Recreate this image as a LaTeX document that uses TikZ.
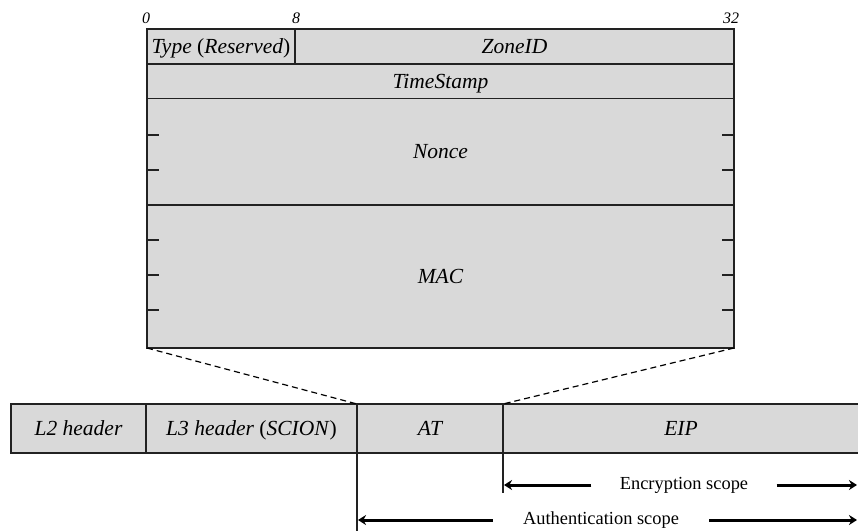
\documentclass[tikz,border=0pt]{standalone}
\usepackage{fontspec}
\setmainfont{Liberation Serif}
\usetikzlibrary{arrows.meta}

\definecolor{fieldgray}{HTML}{D9D9D9}
\definecolor{linegray}{HTML}{222222}

\begin{document}
\begin{tikzpicture}[x=0.5pt,y=-0.5pt,
    field/.style={draw=linegray,fill=fieldgray,line width=0.6pt,anchor=north west,
      inner sep=0pt,outer sep=0pt,text height=8.4pt,text depth=1.6pt,
      font=\fontsize{10.75}{12}\selectfont\itshape},
    bitlabel/.style={font=\fontsize{8}{9}\selectfont\itshape,inner sep=0pt},
    scopelabel/.style={font=\fontsize{9.2}{11}\selectfont,inner ysep=0pt,inner xsep=14pt,
      text height=6.5pt,text depth=2pt},
    scopearrow/.style={line width=1.5pt,-{Stealth[length=4pt,width=5pt]}},
    tickmark/.style={draw=linegray,line width=0.6pt}]

  \useasboundingbox (0,0) rectangle (858,531);

  % bit positions
  \node[bitlabel] (b0)  at (146,18) {0};
  \node[bitlabel] (b8)  at (296,18) {8};
  \node[bitlabel] (b32) at (731,18) {32};

  % token fields
  \begin{scope}[every node/.style={field}]
    \node[minimum width=74pt,minimum height=17.5pt]    (type) at (147,29)   {Type \textup{(}Reserved\textup{)}};
    \node[minimum width=219.5pt,minimum height=17.5pt] (zone) at (295,29)   {ZoneID};
    \node[minimum width=293.5pt,minimum height=17.25pt](time) at (147,64)   {TimeStamp};
    \node[minimum width=293.5pt,minimum height=53.25pt](nonce) at (147,98.5) {Nonce};
    \node[minimum width=293.5pt,minimum height=71.5pt] (mac)  at (147,205)  {MAC};
  \end{scope}

  \foreach \y in {135,170,240,275,310}
    \draw[tickmark] (147,\y) -- ++(12,0) (734,\y) -- ++(-12,0);

  % packet
  \begin{scope}[every node/.style={field,minimum height=24.5pt}]
    \node[minimum width=67.5pt]  (l2)  at (11,404)  {L2 header};
    \node[minimum width=105.5pt] (l3)  at (146,404) {L3 header \textup{(}SCION\textup{)}};
    \node[minimum width=73pt]    (at)  at (357,404) {AT};
    \node[minimum width=178pt]   (eip) at (503,404) {EIP};
  \end{scope}

  \draw[dashed,dash pattern=on 3pt off 2pt,line width=0.6pt] (mac.south west) -- (at.north west);
  \draw[dashed,dash pattern=on 3pt off 2pt,line width=0.6pt] (mac.south east) -- (eip.north west);

  % scopes
  \coordinate (encB)  at (503,493);
  \coordinate (authB) at (357,531);
  \coordinate (encL)  at (504,485);
  \coordinate (encR)  at (857,485);
  \coordinate (authL) at (358,520);
  \coordinate (authR) at (857,520);

  \draw[tickmark] (eip.south west) -- (encB);
  \draw[tickmark] (at.south west) -- (authB);

  \node[scopelabel] (enc)  at (684,485) {Encryption scope};
  \node[scopelabel,inner xsep=15pt] (auth) at (601,520) {Authentication scope};

  \path (enc)  edge[scopearrow] (encL);
  \path (enc)  edge[scopearrow] (encR);
  \path (auth) edge[scopearrow] (authL);
  \path (auth) edge[scopearrow] (authR);

\end{tikzpicture}
\end{document}
